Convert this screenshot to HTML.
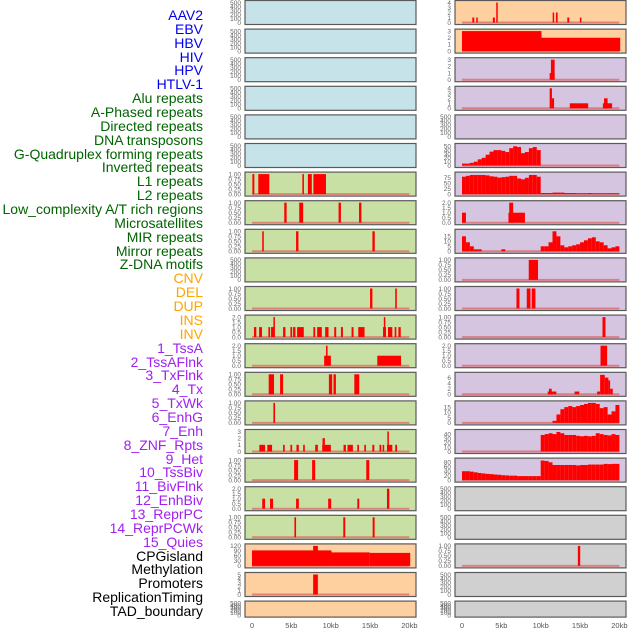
<!DOCTYPE html>
<html><head><meta charset="utf-8">
<style>
body{margin:0;background:#fff;width:630px;height:630px;overflow:hidden;font-family:"Liberation Sans",sans-serif}
#labels div{position:absolute;right:427px;font-size:14px;line-height:14px;white-space:nowrap}
</style></head>
<body>
<div id="labels"></div>
<svg id="chart" width="630" height="630" style="position:absolute;left:0;top:0"></svg>
<script>
// ---- labels ----
const trackNames=["AAV2","EBV","HBV","HIV","HPV","HTLV-1","Alu repeats","A-Phased repeats","Directed repeats","DNA transposons","G-Quadruplex forming repeats","Inverted repeats","L1 repeats","L2 repeats","Low_complexity A/T rich regions","Microsatellites","MIR repeats","Mirror repeats","Z-DNA motifs","CNV","DEL","DUP","INS","INV","1_TssA","2_TssAFlnk","3_TxFlnk","4_Tx","5_TxWk","6_EnhG","7_Enh","8_ZNF_Rpts","9_Het","10_TssBiv","11_BivFlnk","12_EnhBiv","13_ReprPC","14_ReprPCWk","15_Quies","CPGisland","Methylation","Promoters","ReplicationTiming","TAD_boundary"];
const xTickLabels=["0","5kb","10kb","15kb","20kb"];
const xTickValues=[0,5,10,15,20];
// ---- data (kb start, kb end, value) ----
const emptyTicks=[0,100,200,300,400,500];
const l1Left=[[0.05,0.3,1],[0.8,2.2,1],[6.4,6.6,1],[7.1,7.6,1],[7.8,9.4,1]];
const lowCxLeft=[[4.1,4.4,1],[6.0,6.5,1],[11,11.3,1],[13.6,13.9,1]];
const mirLeft=[[1.3,1.5,1],[5.6,5.9,1],[15.3,15.6,1]];
const delLeft=[[15.0,15.3,1],[18.2,18.4,1]];
const insLeft=[[0.25,0.55,1],[0.9,1.27,1],[2.08,2.3,1],[2.42,2.76,1],[2.72,2.85,2],[3.95,4.25,1],[4.88,5.1,1],[5.22,5.52,1],[5.73,6.58,1],[7.8,8.03,1],[8.28,8.87,1],[9.3,9.72,1],[10.45,10.7,1],[11.3,11.55,1],[12.65,12.9,1],[13.5,14.3,1],[16.65,17.03,1],[16.75,16.9,2],[17.28,17.83,1],[18.13,18.34,1],[18.6,18.9,1]];
const tssALeft=[[9.17,10.02,1],[9.4,9.6,2],[15.92,18.94,1]];
const txLeft=[[2.12,2.8,1],[3.57,3.95,1],[9.77,10.19,1],[10.36,10.66,1],[13,13.63,1]];
const enhGLeft=[[2.72,2.93,1]];
const znfLeft=[[0.93,1.66,1],[1.95,2.55,1],[3.95,4.16,1],[4.88,5.1,1],[5.65,5.95,1],[6.5,6.71,1],[8.03,8.37,1],[8.92,10.02,1],[8.96,9.26,2],[11.63,11.93,1],[12.14,12.82,1],[13.38,13.59,1],[14.27,14.48,1],[15.29,15.54,1],[16.2,16.43,1],[16.6,16.8,1],[17.15,17.83,1],[17.2,17.38,3],[18.2,18.43,1]];
const tssBivLeft=[[5.35,5.86,1],[7.64,8.03,1],[14.52,14.9,1]];
const enhBivLeft=[[1.3,1.66,1],[2.29,2.68,1],[5.6,5.95,1],[9.68,10.06,1],[13.38,13.63,1],[17.15,17.45,2]];
const reprPCLeft=[[5.39,5.6,1],[11.6,11.85,1],[15.33,15.58,1]];
const cpgLeft=[[0,10.1,93],[10.1,14.95,81],[14.95,20.1,78],[7.77,8.37,120]];
const methLeft=[[7.77,8.37,5]];
const aav2Right=[[1.31,1.56,1],[1.81,1.98,1],[3.92,4.18,1],[4.35,4.52,4],[11.52,11.69,2],[11.94,12.15,2],[13.38,13.63,1],[14.98,15.15,1]];
const ebvRight=[[0,10.1,3],[10.1,20.1,2]];
const hbvRight=[[11.14,11.77,1],[11.3,11.77,3]];
const hivRight=[[11.14,11.43,4],[11.43,11.7,2],[13.7,16.03,1],[17.9,19.07,1],[18.05,18.5,2]];
const gquadRightBins=[5,5,7,10,16,20,28,36,40,40,38,35,45,50,48,32,35,45,48,40];
const l1RightBins=[80,84,88,88,88,88,86,82,80,76,78,80,84,84,72,68,75,88,88,80,5,5,5,7,7,7,5,5,5,4,4,4,5,4,4,4,4,4,4,4];
const lowCxRight=[[0,0.5,1],[5.9,8.0,1],[6.0,6.5,2]];
const mirRightBins=[15,9,5,2,2,0,0,0,0,0,2,0,0,0,0,0,0,0,0,0,5,5,9,20,15,6,4,5,6,7,9,11,13,14,10,9,6,3,4,5];
const zdnaRight=[[8.48,9.66,1]];
const delRight=[[6.92,7.3,1],[8.23,8.7,1],[8.86,9.33,1]];
const insRight=[[17.85,18.23,1]];
const tssARight=[[17.6,18.44,2]];
const txRight=[[10.89,11.99,1],[11.05,11.4,2],[14.3,14.9,1],[17.17,17.55,1],[17.55,18.14,7],[18.14,18.6,6],[18.6,18.82,5],[18.82,19.16,2]];
const enhGRightBins=[0,2,8,13,15,16,15,16,17,18,19,19,18,14,15,8,11,17];
const znfRightBins=[0,0,0,0,0,0,0,0,0,0,0,0,0,0,0,0,0,0,0,0,38,40,42,40,45,42,38,38,38,36,35,36,35,36,42,40,38,37,40,38];
const tssBivRightBins=[40,40,38,35,32,30,28,27,25,24,22,21,20,20,18,18,18,18,18,18,88,86,80,68,68,68,68,68,68,66,68,68,70,70,70,70,73,72,73,73];
const cpgRight=[[14.72,15.02,1]];

function binsToSegs(bins,start,step){return bins.map((v,i)=>[start+i*step,start+(i+1)*step,v]);}
const t1=[0,0.25,0.5,0.75,1.00],t2=[0,0.5,1,1.5,2];
// panel definitions: [row,col,ticks,ymax,segments]
const panels=[
[6,0,t1,1,l1Left,'l1-left'],[7,0,t1,1,lowCxLeft,'low-complexity-left'],[8,0,t1,1,mirLeft,'mir-left'],
[10,0,t1,1,delLeft,'del-left'],[11,0,t2,2,insLeft,'ins-left'],[12,0,t2,2,tssALeft,'tssa-left'],
[13,0,t1,1,txLeft,'tx-left'],[14,0,t1,1,enhGLeft,'enhg-left'],[15,0,[0,1,2,3],3,znfLeft,'znf-left'],
[16,0,t1,1,tssBivLeft,'tssbiv-left'],[17,0,t2,2,enhBivLeft,'enhbiv-left'],[18,0,t1,1,reprPCLeft,'reprpc-left'],
[19,0,[0,30,60,90,120],120,cpgLeft,'cpg-left'],[20,0,[0,1,2,3,4,5],5,methLeft,'methylation-left'],
[0,1,[0,1,2,3,4],4,aav2Right,'aav2-right'],[1,1,[0,1,2,3],3,ebvRight,'ebv-right'],[2,1,[0,1,2,3],3,hbvRight,'hbv-right'],
[3,1,[0,1,2,3,4],4,hivRight,'hiv-right'],[5,1,[0,10,20,30,40,50],52,binsToSegs(gquadRightBins,0,0.5),'gquad-right'],
[6,1,[0,25,50,75],92,binsToSegs(l1RightBins,0,0.5),'l1-right'],[7,1,t2,2,lowCxRight,'low-complexity-right'],
[8,1,[0,5,10,15],20,binsToSegs(mirRightBins,0,0.5),'mir-right'],[9,1,t1,1,zdnaRight,'zdna-right'],
[10,1,t1,1,delRight,'del-right'],[11,1,t1,1,insRight,'ins-right'],[12,1,t2,2,tssARight,'tssa-right'],
[13,1,[0,2,4,6],7.2,txRight,'tx-right'],[14,1,[0,5,10,15],19,binsToSegs(enhGRightBins,11,0.5),'enhg-right'],
[15,1,[0,10,20,30,40],46,binsToSegs(znfRightBins,0,0.5),'znf-right'],[16,1,[0,20,40,60,80],90,binsToSegs(tssBivRightBins,0,0.5),'tssbiv-right'],
[19,1,t1,1,cpgRight,'cpg-right']
];
// ---- render ----
const lab=document.getElementById('labels');
const colors=i=>i<6?'#0000ee':i<19?'#006400':i<24?'#ffa500':i<39?'#a020f0':'#000';
trackNames.forEach((n,i)=>{const d=document.createElement('div');d.textContent=n;d.style.top=(8+i*13.86)+'px';d.style.color=colors(i);


lab.appendChild(d);});
const svg=document.getElementById('chart');const NS='http://www.w3.org/2000/svg';
function el(t,a,p){const e=document.createElementNS(NS,t);for(const k in a)e.setAttribute(k,a[k]);(p||svg).appendChild(e);return e;}
const PL=[245,455],PW=171,X0=[252,462],KB=7.87;
function xs(col,kb){return X0[col]+kb*KB;}
function rowTop(r){return 0.5+r*28.6;}
function rowH(r){return r==21?16:24;}
function bg(r,c){if(c==0)return r<6?'#c6e3ea':r<19?'#c9e0a5':'#fecf9f';return r<2?'#fecf9f':r<17?'#d5c5e1':'#d0d0d0';}
const spec={};panels.forEach(p=>spec[p[0]+'_'+p[1]]=p);
for(let c=0;c<2;c++)for(let r=0;r<22;r++){
  const g=el('g',{});
  const top=rowTop(r),h=rowH(r);
  const p=spec[r+'_'+c];
  
  
  el('rect',{x:PL[c],y:top,width:PW,height:h,fill:bg(r,c),stroke:'#5a5a5a','stroke-width':1.2},g);
  const ticks=p?p[2]:emptyTicks, ymax=p?p[3]:500;
  const y0=top+h-2,y1=top+2;
  const ys=v=>y0-(v/ymax)*(y0-y1);
  ticks.forEach(t=>{const tx=el('text',{x:PL[c]-4,y:ys(t)+2.3,'font-size':6.5,fill:'#666','text-anchor':'end'},g);
    tx.textContent=(ymax===1?t.toFixed(2):(ymax===2?t.toFixed(1):t));
    
    });
  if(p){
    el('line',{x1:xs(c,0),x2:xs(c,20),y1:y0,y2:y0,stroke:'#e06060','stroke-width':2,opacity:0.7},g);
    p[4].forEach(s=>{if(s[2]<=0)return;const b=el('rect',{x:xs(c,s[0]),y:ys(s[2]),width:Math.max(1.5,(s[1]-s[0])*KB),height:y0-ys(s[2]),fill:'#ff0000'},g);
      
      });
  }
}
for(let c=0;c<2;c++)xTickValues.forEach((v,i)=>{const t=el('text',{x:xs(c,v),y:628,'font-size':7.5,fill:'#555','text-anchor':'middle'});t.textContent=xTickLabels[i];
  
  });
</script>
</body></html>
